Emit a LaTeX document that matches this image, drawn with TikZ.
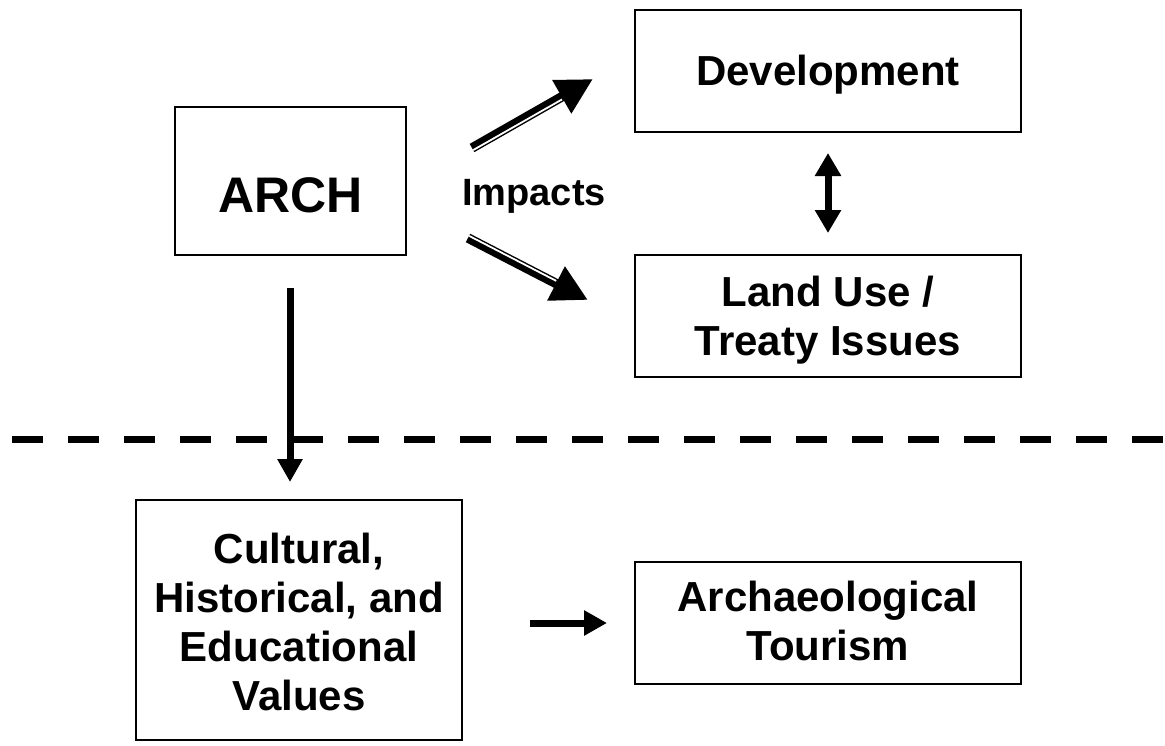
\documentclass[tikz,border=0pt]{standalone}
\usepackage{fontspec}
\setmainfont{Liberation Sans}
\usetikzlibrary{arrows.meta,calc}
\begin{document}
\begin{tikzpicture}[x=1pt,y=-1pt,
  box/.style={draw, line width=2.2pt, inner sep=0pt},
  big/.style={font=\fontsize{42}{49}\selectfont\bfseries, align=center, inner sep=0pt},
  thickarrow/.style={line width=7pt, -{Triangle[length=23pt,width=24pt]}},
  impactarrow/.style={line width=9.5pt, -{Triangle[length=36pt,width=36pt]}},
  gapline/.style={white, line width=1.8pt, shorten >=37pt}]
\useasboundingbox (0,0) rectangle (1165,745);
% boxes
\node[box, minimum width=231pt, minimum height=148pt] (arch) at (290.5,181) {};
\node[box, minimum width=386pt, minimum height=122pt] (dev) at (828,71) {};
\node[box, minimum width=386pt, minimum height=122pt] (land) at (828,316) {};
\node[box, minimum width=326pt, minimum height=240pt] (cult) at (299,620) {};
\node[box, minimum width=386pt, minimum height=122pt] (tour) at (828,623) {};
% texts
\node[font=\fontsize{50}{58}\selectfont\bfseries, inner sep=0pt, anchor=base] (archt) at (290.5,212) {ARCH};
\node[big, anchor=base] (devt) at (828,85) {Development};
\node[big] (landt) at (828,320.5) {Land Use /\\Treaty Issues};
\node[big] (cultt) at (299,622) {Cultural,\\Historical, and\\Educational\\Values};
\node[big] (tourt) at (828,621) {Archaeological\\Tourism};
\node[font=\fontsize{38}{44}\selectfont\bfseries, inner sep=0pt] (imp) at (534,196) {Impacts};
% dashed separator
\coordinate (dl) at (12,439);
\coordinate (dr) at (1165,439);
\draw[line width=7pt, dash pattern=on 31pt off 25pt] (dl) -- (dr);
% vertical arrow ARCH -> values
\coordinate (vs) at (290,288);
\coordinate (ve) at (290,482);
\draw[thickarrow] (vs) -- (ve);
% double arrow dev <-> land
\coordinate (da) at (828,153);
\coordinate (db) at (828,233);
\draw[line width=7pt, {Triangle[length=23pt,width=25pt]}-{Triangle[length=23pt,width=25pt]}] (da) -- (db);
% small arrow values -> tourism
\coordinate (hs) at (530,623);
\coordinate (he) at (607,623);
\draw[thickarrow] (hs) -- (he);
% impacts arrows
\coordinate (i1s) at (472,148);
\coordinate (i1e) at (593,79);
\draw[impactarrow] (i1s) -- (i1e);
\draw[gapline] ($(i1s)!2.4pt!-90:(i1e)$) -- ($(i1e)!2.4pt!90:(i1s)$);
\coordinate (i2s) at (468,238);
\coordinate (i2e) at (588,300);
\draw[impactarrow] (i2s) -- (i2e);
\draw[gapline] ($(i2s)!2.4pt!90:(i2e)$) -- ($(i2e)!2.4pt!-90:(i2s)$);
\end{tikzpicture}
\end{document}
